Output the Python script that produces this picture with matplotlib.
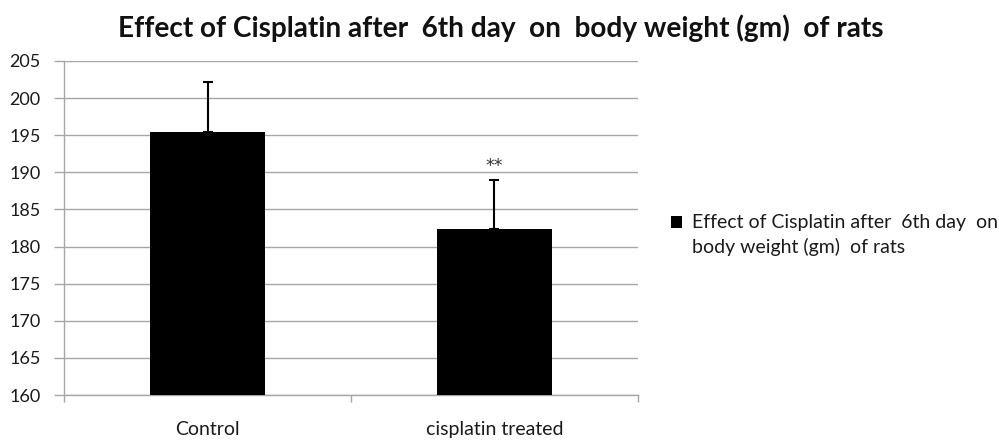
import matplotlib
matplotlib.use("Agg")
import matplotlib.pyplot as plt
from matplotlib.patches import Rectangle
from matplotlib.legend_handler import HandlerPatch
from matplotlib.container import BarContainer
import numpy as np

categories = ["Control", "cisplatin treated"]
means = [195.5, 182.3]
errors = [6.7, 6.7]
series_label = "Effect of Cisplatin after  6th day  on\nbody weight (gm)  of rats"
title = "Effect of Cisplatin after  6th day  on  body weight (gm)  of rats"
yticks = [160, 165, 170, 175, 180, 185, 190, 195, 200, 205]
signif = ["", "**"]

plt.rcParams['font.family'] = ['Lato', 'DejaVu Sans']

fig = plt.figure(figsize=(9.99, 4.41), dpi=100)
ax = fig.add_axes([0.0641, 0.1043, 0.5745, 0.7574])

x = np.arange(len(categories))
grid_c = "#a6a6a6"
text_c = "#1a1a1a"
bars = ax.bar(x, means, width=0.4, color="black", zorder=3)
ax.errorbar(x, means, yerr=[np.zeros(len(errors)), errors], fmt="none",
            ecolor="black", elinewidth=1.5, capsize=3.3, capthick=1.5, zorder=4)

for xi, m, e, s in zip(x, means, errors, signif):
    if s:
        ax.text(xi, m + e + 1.8, s, ha="center", va="center", fontsize=12.5,
                color="#333333", family=["DejaVu Sans"])

ax.set_xlim(-0.5, len(categories) - 0.5)
ax.set_ylim(160, 205)
ax.set_yticks(yticks)
ax.yaxis.grid(True, color=grid_c, linewidth=1.0, zorder=0)
ax.set_axisbelow(True)

ax.set_xticks(x)
ax.set_xticklabels(categories)
ax.set_xticks(np.arange(-0.5, len(categories)), minor=True)
ax.tick_params(axis="x", which="major", length=0, pad=19, labelsize=14, labelcolor=text_c)
ax.tick_params(axis="x", which="minor", length=5, width=1, color=grid_c)
ax.tick_params(axis="y", length=7, width=1, color=grid_c, pad=10, labelsize=13, labelcolor=text_c)

for side in ["top", "right"]:
    ax.spines[side].set_visible(False)
for side in ["left", "bottom"]:
    ax.spines[side].set_color(grid_c)
    ax.spines[side].set_linewidth(1.0)


def square_first_line(legend, orig_handle, xdescent, ydescent, width, height, fontsize):
    return Rectangle((-xdescent, -ydescent + 9.4), width, height)


handler = HandlerPatch(patch_func=square_first_line,
                       update_func=lambda h, o: h.update_from(o[0]))

leg = ax.legend([bars], [series_label], loc="center left",
                bbox_to_anchor=(0.6717, 0.468), bbox_transform=fig.transFigure,
                frameon=False, fontsize=14, handlelength=0.565, handleheight=0.565,
                handletextpad=0.51, borderpad=0, borderaxespad=0, labelcolor=text_c,
                handler_map={BarContainer: handler})
for t in leg.get_texts():
    t.set_linespacing(1.45)

fig.text(0.501, 0.9365, title, ha="center", va="center", fontsize=20.2,
         fontweight="bold", color="#111111")

fig.savefig("out.png", dpi=100)
